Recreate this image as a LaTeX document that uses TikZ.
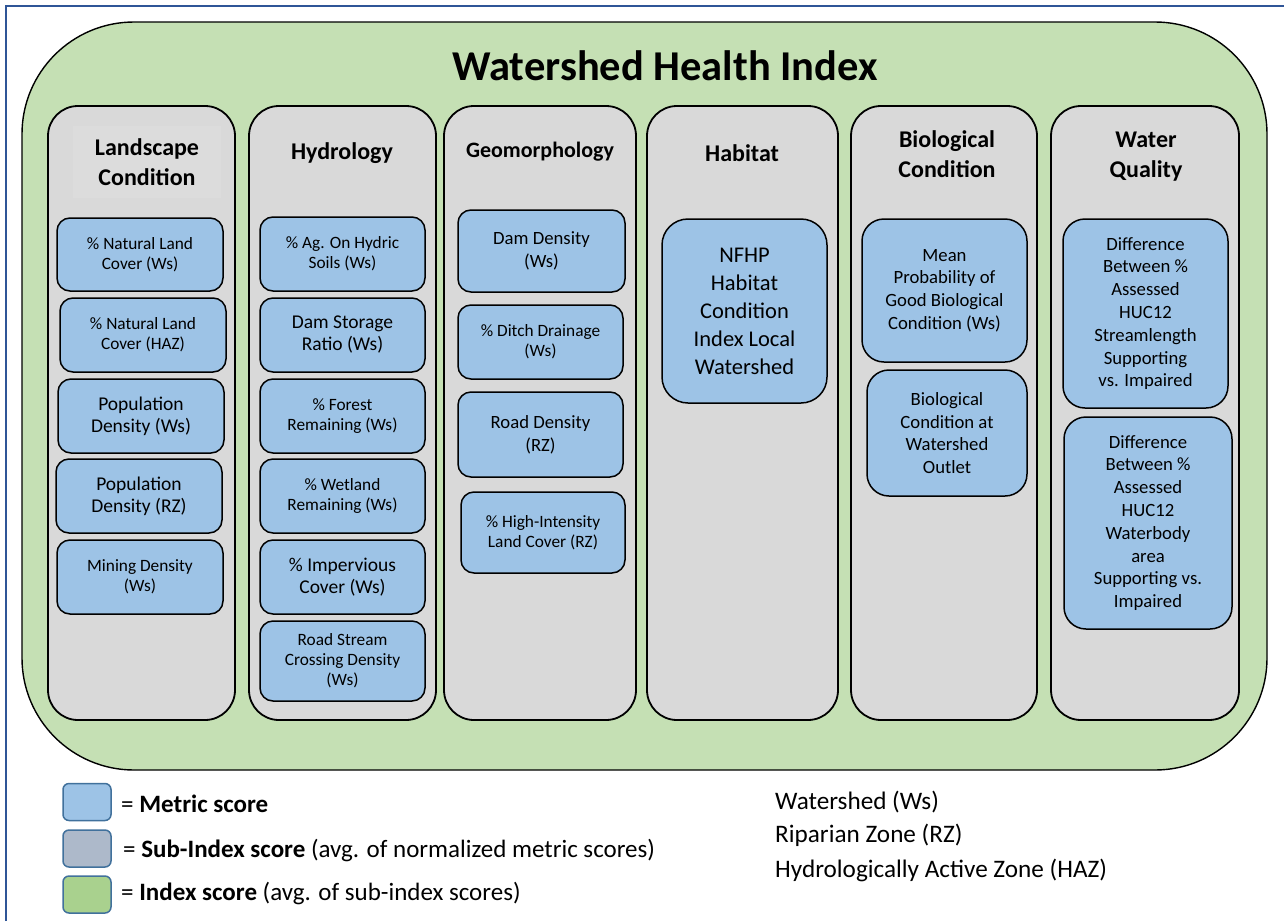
\documentclass[tikz,border=0pt]{standalone}
\usepackage{fontspec}
\setmainfont{Carlito}
\definecolor{metricblue}{HTML}{9DC3E6}
\definecolor{subgray}{HTML}{D9D9D9}
\definecolor{hdrgray}{HTML}{DCDCDC}
\definecolor{indexgreen}{HTML}{C5E0B4}
\definecolor{leggray}{HTML}{ADB9CA}
\definecolor{leggreen}{HTML}{A9D18E}
\definecolor{legborder}{HTML}{41719C}
\definecolor{framecol}{HTML}{2F5597}
\begin{document}
\begin{tikzpicture}[x=1pt,y=-1pt,
  indexbox/.style={draw=black, line width=1.4pt, fill=indexgreen, rounded corners=112pt, inner sep=0pt},
  colbox/.style={draw=black, line width=1.8pt, fill=subgray, rounded corners=30pt, inner sep=0pt, minimum height=614pt},
  metric/.style={draw=black, line width=1.5pt, fill=metricblue, rounded corners=13pt, inner sep=0pt, align=center},
  small/.style={font=\fontsize{17.3}{20}\selectfont},
  large/.style={font=\fontsize{19.5}{22}\selectfont},
  mid/.style={font=\fontsize{18.7}{22.8}\selectfont},
  hdr/.style={font=\fontsize{24}{30}\selectfont\bfseries, align=center, inner sep=0pt},
  legsq/.style={draw=legborder, line width=1.5pt, rounded corners=6pt, minimum width=48pt, minimum height=37pt, inner sep=0pt},
  legtxt/.style={anchor=west, inner sep=0pt, font=\fontsize{25}{30}\selectfont},
  keytxt/.style={anchor=west, inner sep=0pt, font=\fontsize{25.2}{30}\selectfont}
]
\useasboundingbox (0,0) rectangle (1284,921);
\fill[white] (0,0) rectangle (1284,921);
% frame
\draw[framecol, line width=2pt] (6,921) -- (6,6) -- (1284,6);
% index box
\node[indexbox, minimum width=1245pt, minimum height=748pt] (whi) at (644.5,396) {};
\node[font=\fontsize{42.5}{50}\selectfont\bfseries, inner sep=0pt] (title) at (665,66) {Watershed Health Index};
% columns
\node[colbox, minimum width=187pt] (c1) at (141.5,413) {};
\node[colbox, minimum width=187pt] (c2) at (342.5,413) {};
\node[colbox, minimum width=192pt] (c3) at (540,413) {};
\node[colbox, minimum width=191pt] (c4) at (742.5,413) {};
\node[colbox, minimum width=186pt] (c5) at (944,413) {};
\node[colbox, minimum width=188pt] (c6) at (1145,413) {};
% headers
\node[hdr, fill=hdrgray, minimum width=148pt, minimum height=72pt] (h1) at (147,162) {Landscape\\Condition};
\node[hdr] (h2) at (342,153) {Hydrology};
\node[hdr, font=\fontsize{22}{28}\selectfont\bfseries] (h3) at (540,152) {Geomorphology};
\node[hdr] (h4) at (742,153) {Habitat};
\node[hdr] (h5) at (947,154) {Biological\\Condition};
\node[hdr] (h6) at (1146,157) {Water\\Quality};
% landscape
\node[metric, small, minimum width=166pt, minimum height=73pt] (la) at (140,254.5) {\% Natural Land\\Cover (Ws)};
\node[metric, small, minimum width=166pt, minimum height=74pt] (lb) at (143,335) {\% Natural Land\\Cover (HAZ)};
\node[metric, large, minimum width=166pt, minimum height=74pt] (lc) at (141,416) {Population\\Density (Ws)};
\node[metric, large, minimum width=166pt, minimum height=74pt] (ld) at (139,496) {Population\\Density (RZ)};
\node[metric, small, minimum width=166pt, minimum height=74pt] (le) at (140,577) {Mining Density\\(Ws)};
% hydrology
\node[metric, small, minimum width=165pt, minimum height=74pt] (ha) at (342.5,254) {\% Ag. On Hydric\\Soils (Ws)};
\node[metric, large, minimum width=165pt, minimum height=74pt] (hb) at (342.5,335) {Dam Storage\\Ratio (Ws)};
\node[metric, small, minimum width=165pt, minimum height=74pt] (hc) at (342.5,416) {\% Forest\\Remaining (Ws)};
\node[metric, small, minimum width=165pt, minimum height=74pt] (hd) at (342.5,496) {\% Wetland\\Remaining (Ws)};
\node[metric, large, minimum width=165pt, minimum height=74pt] (he) at (342.5,577) {\% Impervious\\Cover (Ws)};
\node[metric, small, minimum width=165pt, minimum height=80pt] (hf) at (342.5,661) {Road Stream\\Crossing Density\\(Ws)};
% geomorphology
\node[metric, mid, minimum width=167pt, minimum height=82pt] (ga) at (541.5,251) {Dam Density\\(Ws)};
\node[metric, small, minimum width=165pt, minimum height=74pt] (gb) at (540.5,342) {\% Ditch Drainage\\(Ws)};
\node[metric, mid, minimum width=165pt, minimum height=85pt] (gc) at (540.5,434.5) {Road Density\\(RZ)};
\node[metric, small, minimum width=164pt, minimum height=81pt] (gd) at (543,532.5) {\% High-Intensity\\Land Cover (RZ)};
% habitat
\node[metric, font=\fontsize{22.5}{28}\selectfont, rounded corners=26pt, minimum width=165pt, minimum height=184pt] (hab) at (744.5,311) {NFHP\\Habitat\\Condition\\Index Local\\Watershed};
% biological
\node[metric, mid, rounded corners=22pt, minimum width=165pt, minimum height=143pt] (ba) at (944.5,290.5) {Mean\\Probability of\\Good Biological\\Condition (Ws)};
\node[metric, mid, rounded corners=22pt, minimum width=160pt, minimum height=126pt] (bb) at (947,433) {Biological\\Condition at\\Watershed\\Outlet};
% water quality
\node[metric, mid, rounded corners=22pt, minimum width=165pt, minimum height=189pt] (wa) at (1145.5,313.5) {Difference\\Between \%\\Assessed\\HUC12\\Streamlength\\Supporting\\vs. Impaired};
\node[metric, mid, rounded corners=22pt, minimum width=168pt, minimum height=212pt] (wb) at (1148,523) {Difference\\Between \%\\Assessed\\HUC12\\Waterbody\\area\\Supporting vs.\\Impaired};
% legend
\node[legsq, fill=metricblue] (s1) at (87,802) {};
\node[legsq, fill=leggray] (s2) at (87,848.5) {};
\node[legsq, fill=leggreen] (s3) at (87,894.5) {};
\node[legtxt] (t1) at (121,804) {= \textbf{Metric score}};
\node[legtxt] (t2) at (123,850) {= \textbf{Sub-Index score} (avg. of normalized metric scores)};
\node[legtxt] (t3) at (121,893) {= \textbf{Index score} (avg. of sub-index scores)};
\node[keytxt] (k1) at (775,802) {Watershed (Ws)};
\node[keytxt] (k2) at (775,835) {Riparian Zone (RZ)};
\node[keytxt] (k3) at (775,870) {Hydrologically Active Zone (HAZ)};
\end{tikzpicture}
\end{document}
